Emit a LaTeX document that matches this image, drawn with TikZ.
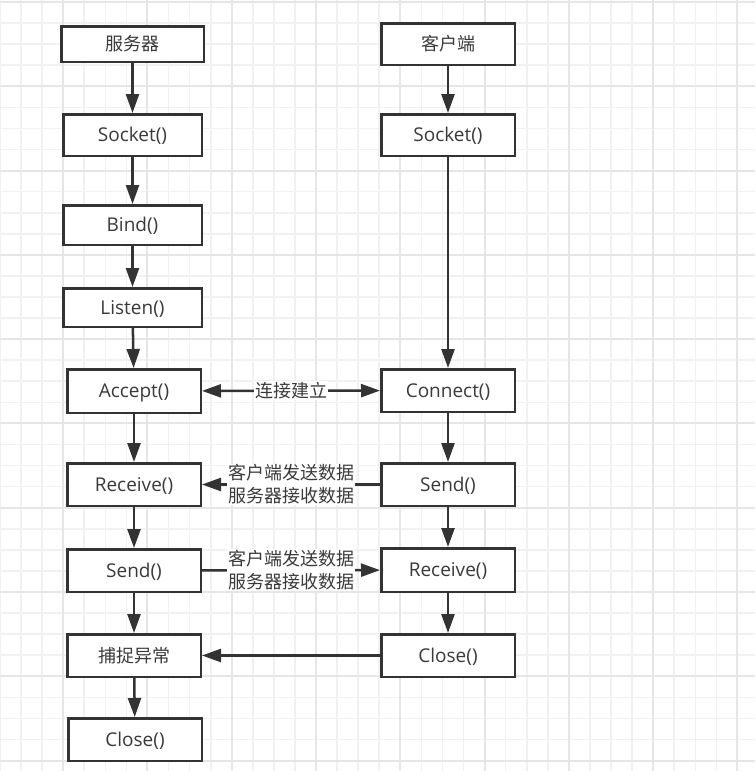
\documentclass[tikz,border=0pt]{standalone}
\usepackage{fontspec}
\setmainfont{Open Sans}
\newfontfamily\cjk{Noto Sans CJK SC}
\usetikzlibrary{arrows.meta,positioning}
\definecolor{linec}{HTML}{333333}
\definecolor{txtc}{HTML}{3A3A3A}
\definecolor{gridminor}{HTML}{F1F1F1}
\definecolor{gridmajor}{HTML}{E6E6E6}

\begin{document}
\begin{tikzpicture}[
  x=1pt,y=-1pt,
  font=\fontsize{19}{22}\selectfont,
  >={Triangle[length=19pt,width=13pt]},
  box/.style={draw=linec,line width=2.5pt,fill=white,text=txtc,minimum width=133.5pt,minimum height=42.5pt,inner sep=2pt,text height=13.5pt,text depth=0pt},
  wbox/.style={box,minimum width=138.5pt},
  lab/.style={fill=white,text=txtc,align=center,inner sep=1pt,font=\cjk\fontsize{18}{23}\selectfont},
  arr/.style={->,line width=2.5pt,draw=linec},
  node distance=40pt]
  \useasboundingbox[fill=white] (0,0) rectangle (755,771);
  % grid
  \foreach \i in {0,...,35} \draw[gridminor,line width=1.6pt] ({21.07*\i},0) -- ({21.07*\i},771);
  \foreach \j in {0,...,36} \draw[gridminor,line width=1.6pt] (0,{2+21.07*\j}) -- (755,{2+21.07*\j});
  \foreach \i in {3,7,...,35} \draw[gridmajor,line width=2pt] ({21.07*\i},0) -- ({21.07*\i},771);
  \foreach \j in {0,4,...,36} \draw[gridmajor,line width=2pt] (0,{2+21.07*\j}) -- (755,{2+21.07*\j});
  % server
  \node[wbox,minimum width=142.5pt,minimum height=35.5pt] (srv) at (132.5,44) {\cjk\fontsize{18}{22}\selectfont 服务器};
  \node[wbox,below=50pt of srv,minimum height=41.5pt] (ssock) {Socket()};
  \node[wbox,below=47pt of ssock,minimum height=39.5pt] (sbind) {Bind()};
  \node[wbox,below=41pt of sbind,minimum height=38.5pt] (slisten) {Listen()};
  \node[box,below=40pt of slisten,xshift=1.5pt,minimum height=43.5pt] (saccept) {Accept()};
  \node[box,below=48pt of saccept] (srecv) {Receive()};
  \node[box,below=41pt of srecv] (ssend) {Send()};
  \node[box,below=40pt of ssend] (scatch) {\cjk\fontsize{18}{22}\selectfont 捕捉异常};
  \node[box,below=39pt of scatch,xshift=1pt] (sclose) {Close()};
  % client
  \node[box,minimum height=41.5pt] (cli) at (448,44) {\cjk\fontsize{18}{22}\selectfont 客户端};
  \node[box,below=47pt of cli,minimum height=41.5pt] (csock) {Socket()};
  \node[box,below=211pt of csock] (cconn) {Connect()};
  \node[box,below=49pt of cconn] (csend) {Send()};
  \node[box,below=40pt of csend,minimum height=43.5pt] (crecv) {Receive()};
  \node[box,below=40pt of crecv] (cclose) {Close()};
  \draw[arr] (srv)--(ssock); \draw[arr] (ssock)--(sbind); \draw[arr] (sbind)--(slisten);
  \draw[arr] (slisten)--(saccept); \draw[arr] (saccept)--(srecv); \draw[arr] (srecv)--(ssend);
  \draw[arr] (ssend)--(scatch); \draw[arr] (scatch)--(sclose);
  \draw[arr] (cli)--(csock); \draw[arr] (csock)--(cconn); \draw[arr] (cconn)--(csend);
  \draw[arr] (csend)--(crecv); \draw[arr] (crecv)--(cclose);
  % between the two sides
  \draw[arr,<->] (saccept) -- node[lab] {连接建立} (cconn);
  \draw[arr] (csend) -- node[lab] {客户端发送数据\\服务器接收数据} (srecv);
  \draw[arr] (ssend) -- node[lab] {客户端发送数据\\服务器接收数据} (crecv);
  \draw[arr] (cclose) -- (scatch);
\end{tikzpicture}
\end{document}
